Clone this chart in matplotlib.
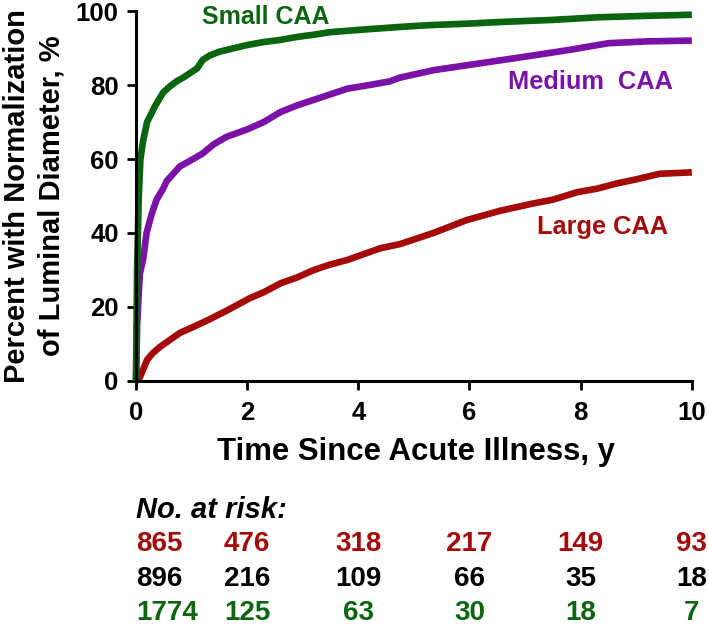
import matplotlib
matplotlib.use('Agg')
import matplotlib.pyplot as plt

# curves (years, % normalized)
small_t = [0, 0.02, 0.05, 0.08, 0.13, 0.2, 0.25, 0.35, 0.49, 0.6, 0.73, 0.85, 1.0, 1.1, 1.2, 1.33, 1.5, 1.69,
           2.0, 2.29, 2.6, 2.9, 3.2, 3.5, 4.1, 4.75, 5.3, 6.0, 6.5, 7.5, 8.3, 9.2, 10.0]
small_y = [0, 30, 50, 60, 65, 70, 71.5, 74.5, 78, 79.5, 81, 82, 83.5, 84.5, 86.8, 88, 89, 89.7,
           90.8, 91.6, 92.2, 93, 93.6, 94.3, 95, 95.7, 96.2, 96.6, 97, 97.6, 98.3, 98.7, 99]

medium_t = [0, 0.02, 0.05, 0.07, 0.13, 0.19, 0.28, 0.37, 0.49, 0.55, 0.79, 0.97, 1.2, 1.4, 1.63, 2.0, 2.3,
            2.6, 2.9, 3.2, 3.5, 3.8, 4.2, 4.57, 4.75, 5.35, 5.8, 6.25, 6.7, 7.15, 7.8, 8.5, 9.2, 10.0]
medium_y = [0, 15, 24, 29, 33, 40, 45, 49, 52, 54, 58, 59.5, 61.5, 64, 66, 68, 70,
            72.7, 74.5, 76, 77.5, 79, 80, 81, 82, 84, 85, 86, 87, 88, 89.5, 91.3, 91.8, 92]

large_t = [0, 0.07, 0.2, 0.3, 0.43, 0.6, 0.79, 1.03, 1.3, 1.63, 2.05, 2.3, 2.6, 2.9, 3.2, 3.5, 3.8, 4.1,
           4.4, 4.75, 5.35, 5.95, 6.55, 7.15, 7.5, 7.93, 8.3, 8.65, 9.0, 9.42, 10.0]
large_y = [0, 1, 5.7, 7.5, 9.2, 11, 13, 14.6, 16.5, 19, 22.4, 24, 26.4, 28, 30, 31.5, 32.7, 34.3,
           35.9, 37, 40, 43.5, 46, 48, 49, 51, 52, 53.4, 54.5, 56, 56.4]

# numbers at risk
risk_x = [0, 2, 4, 6, 8, 10]
risk_large = [865, 476, 318, 217, 149, 93]
risk_medium = [896, 216, 109, 66, 35, 18]
risk_small = [1774, 125, 63, 30, 18, 7]

green = '#0b6410'
purple = '#7a12a8'
red = '#a40a0a'
font = 'Liberation Sans'

fig = plt.figure(figsize=(7.09, 6.26), dpi=100)
ax = fig.add_axes([0.1918, 0.3914, 0.784, 0.591])

lw = 4.8
ax.plot(large_t, large_y, color=red, lw=lw, solid_joinstyle='round', solid_capstyle='butt', clip_on=False)
ax.plot(medium_t, medium_y, color=purple, lw=lw, solid_joinstyle='round', solid_capstyle='butt', clip_on=False)
ax.plot(small_t, small_y, color=green, lw=lw, solid_joinstyle='round', solid_capstyle='butt', clip_on=False)

ax.set_xlim(0, 10)
ax.set_ylim(0, 100)
ax.set_xticks([0, 2, 4, 6, 8, 10])
ax.set_yticks([0, 20, 40, 60, 80, 100])
for s in ['top', 'right']:
    ax.spines[s].set_visible(False)
for s in ['left', 'bottom']:
    ax.spines[s].set_linewidth(2.2)
ax.tick_params(length=6.5, width=2.0, labelsize=18.5)
ax.tick_params(axis='x', pad=8)
ax.tick_params(axis='y', pad=6)
for lab in ax.get_xticklabels() + ax.get_yticklabels():
    lab.set_fontfamily(font)
    lab.set_fontweight('bold')

ax.set_xlabel('Time Since Acute Illness, y', fontsize=22.4, fontweight='bold', family=font)
ax.xaxis.label.set_va('center')
ax.xaxis.set_label_coords(0.503, -0.192)
ax.set_ylabel('Percent with Normalization\nof Luminal Diameter, %', fontsize=21,
              fontweight='bold', family=font, linespacing=1.3)
ax.yaxis.label.set_va('center')
ax.yaxis.set_label_coords(-0.183, 0.5)

ax.text(1.19, 98.4, 'Small CAA', color=green, fontsize=18, fontweight='bold', family=font,
        ha='left', va='center')
ax.text(6.69, 80.8, 'Medium  CAA', color=purple, fontsize=18.3, fontweight='bold', family=font,
        ha='left', va='center')
ax.text(7.21, 41.6, 'Large CAA', color=red, fontsize=18.3, fontweight='bold', family=font,
        ha='left', va='center')

trans = ax.get_xaxis_transform()
ax.text(0, -0.349, 'No. at risk:', transform=trans, fontsize=21, fontweight='bold',
        style='italic', family=font, ha='left', va='center')
rows = [(risk_large, red, -0.441), (risk_medium, 'black', -0.534), (risk_small, green, -0.626)]
for vals, col, yy in rows:
    for i, (xv, v) in enumerate(zip(risk_x, vals)):
        ax.text(xv, yy, str(v), transform=trans, color=col, fontsize=20, fontweight='bold',
                family=font, ha='left' if i == 0 else 'center', va='center', clip_on=False)

fig.savefig('out.png', dpi=100)
